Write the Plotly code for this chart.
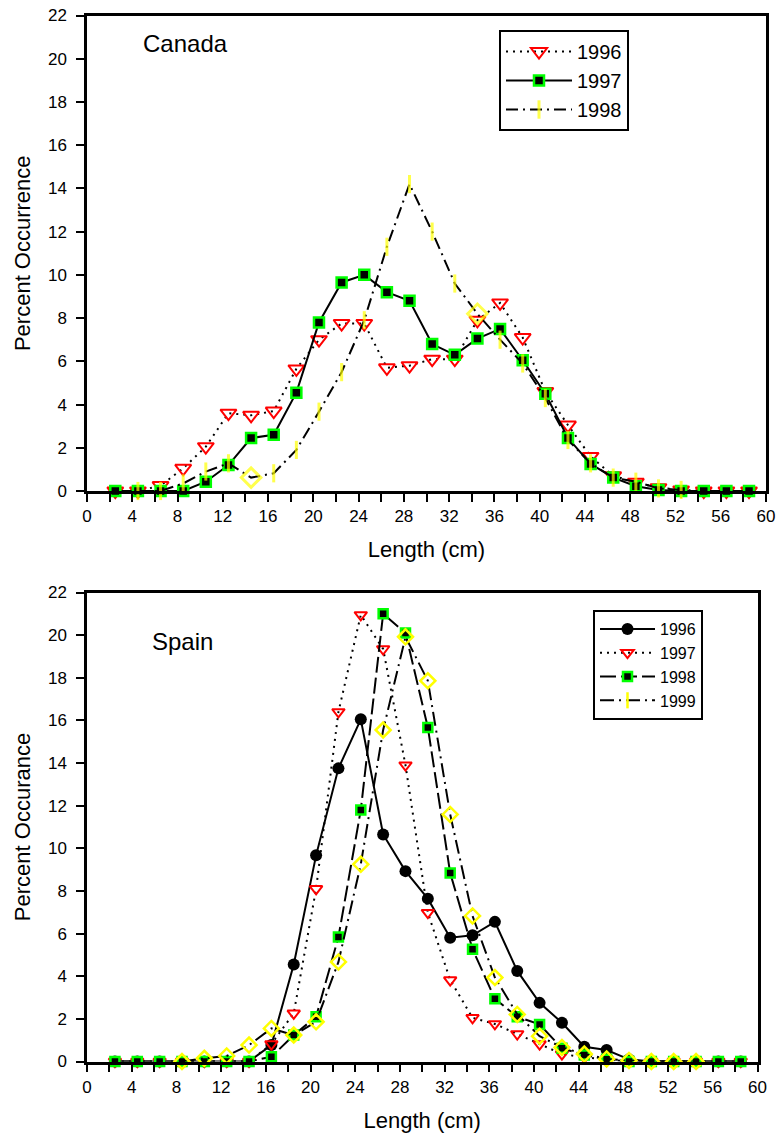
import plotly.graph_objects as go

# Length classes (cm), midpoints of 2-cm bins
lengths = [2.5, 4.5, 6.5, 8.5, 10.5, 12.5, 14.5, 16.5, 18.5, 20.5, 22.5, 24.5, 26.5, 28.5,
           30.5, 32.5, 34.5, 36.5, 38.5, 40.5, 42.5, 44.5, 46.5, 48.5, 50.5, 52.5, 54.5,
           56.5, 58.5]

# Canada: percent occurrence by length class
canada_1996 = [0, 0, 0.25, 1.05, 2.05, 3.6, 3.5, 3.7, 5.65, 7.0, 7.75, 7.75, 5.7, 5.8,
               6.1, 6.1, 7.9, 8.7, 7.1, 4.6, 3.05, 1.6, 0.7, 0.4, 0.15, 0.05, 0, 0, 0]
canada_1997 = [0, 0, 0, 0, 0.43, 1.2, 2.45, 2.6, 4.55, 7.8, 9.65, 10.0, 9.2, 8.8,
               6.8, 6.3, 7.05, 7.5, 6.05, 4.5, 2.45, 1.25, 0.62, 0.22, 0.05, 0, 0, 0, 0]
canada_1998 = [None, 0, 0, 0.35, 0.9, 1.28, 0.62, 0.82, 1.9, 3.67, 5.5, 7.9, 11.3, 14.2,
               12.0, 9.6, 8.2, 7.0, 5.9, 4.3, 2.36, 1.28, 0.62, 0.43, 0.12, 0.05, None,
               None, None]

# Spain: percent occurrence by length class
spain_1996 = [0, 0, 0, 0, 0, 0, 0, 0.77, 4.55, 9.67, 13.75, 16.05, 10.65, 8.93,
              7.64, 5.81, 5.92, 6.55, 4.25, 2.75, 1.82, 0.69, 0.54, 0.1, 0, 0, 0, 0, 0]
spain_1997 = [0, 0, 0, 0, 0, 0, 0, 0.82, 2.26, 8.1, 16.4, 20.95, 19.35, 13.9,
              6.98, 3.82, 2.05, 1.76, 1.29, 0.82, 0.35, 0.2, 0.1, 0, 0, 0, 0, 0, 0]
spain_1998 = [0, 0, 0, 0, 0, 0, 0, 0.22, 1.24, 2.1, 5.84, 11.8, 21.0, 20.1,
              15.67, 8.84, 5.27, 2.94, 2.1, 1.74, 0.62, 0.3, 0.1, 0, 0, 0, 0, 0, 0]
spain_1999 = [None, None, None, 0, 0.15, 0.26, 0.77, 1.55, 1.24, 1.86, 4.67, 9.25, 15.55,
              19.92, 17.86, 11.59, 6.83, 3.94, 2.21, 1.19, 0.66, 0.35, 0.12, 0.05, 0, 0,
              0, None, None]

x_tick_values = list(range(0, 61, 4))
y_tick_values = list(range(0, 23, 2))

FONT = "Arial, 'Liberation Sans', sans-serif"
RED = "#FF0000"
GREEN = "#00FF00"
YELLOW = "#FFFF00"
W, H = 780, 1139

# Canada 1998 uses tick marks, with open diamonds at two classes
canada_1998_diamonds = {14.5, 34.5}
canada_1998_symbols = ["diamond-open" if x in canada_1998_diamonds else "line-ns"
                       for x in lengths]
canada_1998_sizes = [15 if x in canada_1998_diamonds else 13 for x in lengths]
# Spain 1999: diamonds where measured (legend keeps the tick mark)
spain_1999_symbols = ["line-ns" if v is None else "diamond-open" for v in spain_1999]

fig = go.Figure()

# ---- Canada panel ----
fig.add_trace(go.Scatter(
    x=lengths, y=canada_1996, name="1996", mode="lines+markers",
    line=dict(color="black", width=2, dash="2px,5px"),
    marker=dict(symbol="triangle-down-open", size=14, color=RED, line=dict(width=2, color=RED)),
    xaxis="x", yaxis="y", legend="legend", cliponaxis=False))
fig.add_trace(go.Scatter(
    x=lengths, y=canada_1997, name="1997", mode="lines+markers",
    line=dict(color="black", width=2),
    marker=dict(symbol="square", size=10, color="black", line=dict(width=2.5, color=GREEN)),
    xaxis="x", yaxis="y", legend="legend", cliponaxis=False))
fig.add_trace(go.Scatter(
    x=lengths, y=canada_1998, name="1998", mode="lines+markers",
    line=dict(color="black", width=2, dash="12px,5px,2px,5px"),
    marker=dict(symbol=canada_1998_symbols, size=canada_1998_sizes, color=YELLOW,
                line=dict(width=3, color=YELLOW)),
    xaxis="x", yaxis="y", legend="legend", cliponaxis=False))

# ---- Spain panel ----
fig.add_trace(go.Scatter(
    x=lengths, y=spain_1996, name="1996", mode="lines+markers",
    line=dict(color="black", width=2),
    marker=dict(symbol="circle", size=12, color="black"),
    xaxis="x2", yaxis="y2", legend="legend2", cliponaxis=False))
fig.add_trace(go.Scatter(
    x=lengths, y=spain_1997, name="1997", mode="lines+markers",
    line=dict(color="black", width=2, dash="2px,5px"),
    marker=dict(symbol="triangle-down-open", size=11, color=RED, line=dict(width=2, color=RED)),
    xaxis="x2", yaxis="y2", legend="legend2", cliponaxis=False))
fig.add_trace(go.Scatter(
    x=lengths, y=spain_1998, name="1998", mode="lines+markers",
    line=dict(color="black", width=2, dash="16px,5px"),
    marker=dict(symbol="square", size=9, color="black", line=dict(width=2.5, color=GREEN)),
    xaxis="x2", yaxis="y2", legend="legend2", cliponaxis=False))
fig.add_trace(go.Scatter(
    x=lengths, y=spain_1999, name="1999", mode="lines+markers",
    line=dict(color="black", width=2, dash="14px,5px,2px,5px"),
    marker=dict(symbol=spain_1999_symbols, size=11.5, color=YELLOW,
                line=dict(width=2.5, color=YELLOW)),
    xaxis="x2", yaxis="y2", legend="legend2", cliponaxis=False))


def x_axis(domain, anchor):
    return dict(
        domain=domain, anchor=anchor, range=[0, 60],
        tickmode="array", tickvals=x_tick_values,
        ticks="outside", ticklen=8, tickwidth=2, tickcolor="black",
        minor=dict(dtick=2, tick0=0, ticks="outside", ticklen=8, tickwidth=2,
                   tickcolor="black", showgrid=False),
        showline=True, linewidth=2.5, linecolor="black", mirror=True,
        showgrid=False, zeroline=False,
        tickfont=dict(family=FONT, size=17, color="black"),
        title=dict(text="Length (cm)", font=dict(family=FONT, size=22, color="black"),
                   standoff=17),
    )


def y_axis(domain, anchor, title):
    return dict(
        domain=domain, anchor=anchor, range=[0, 22],
        tickmode="array", tickvals=y_tick_values,
        ticks="outside", ticklen=8, tickwidth=2, tickcolor="black",
        ticklabelstandoff=6,
        showline=True, linewidth=2.5, linecolor="black", mirror=True,
        showgrid=False, zeroline=False,
        tickfont=dict(family=FONT, size=17, color="black"),
        title=dict(text=title, font=dict(family=FONT, size=22, color="black"),
                   standoff=12),
    )


legend_common = dict(xanchor="left", yanchor="top", bgcolor="white",
                     bordercolor="black", borderwidth=2, traceorder="normal")

fig.update_layout(
    width=W, height=H,
    margin=dict(l=0, r=0, t=0, b=0, autoexpand=False),
    paper_bgcolor="white", plot_bgcolor="white",
    font=dict(family=FONT, color="black"),
    xaxis=x_axis([87 / W, 766 / W], "y"),
    yaxis=y_axis([1 - 491 / H, 1 - 15.5 / H], "x", "Percent Occurrence"),
    xaxis2=x_axis([87 / W, 757.5 / W], "y2"),
    yaxis2=y_axis([1 - 1061.5 / H, 1 - 592.5 / H], "x2", "Percent Occurance"),
    legend=dict(x=499 / W, y=1 - 30 / H, itemwidth=66,
                font=dict(family=FONT, size=20, color="black"), **legend_common),
    legend2=dict(x=593 / W, y=1 - 610 / H, itemwidth=55,
                 font=dict(family=FONT, size=16, color="black"), **legend_common),
    annotations=[
        dict(text="Canada", x=4.8, y=20.7, xref="x", yref="y", xanchor="left",
             yanchor="middle", showarrow=False,
             font=dict(family=FONT, size=24, color="black")),
        dict(text="Spain", x=5.6, y=19.7, xref="x2", yref="y2", xanchor="left",
             yanchor="middle", showarrow=False,
             font=dict(family=FONT, size=24, color="black")),
    ],
)

fig.write_html("out.html")
